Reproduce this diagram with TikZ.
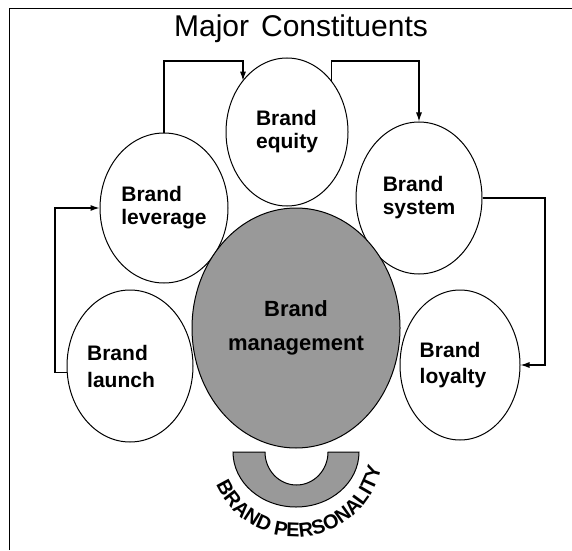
\documentclass[tikz,border=0pt]{standalone}
\usepackage{fontspec}
\setmainfont{Liberation Sans}
\usetikzlibrary{shapes.geometric,arrows.meta,decorations.text}
\begin{document}
\begin{tikzpicture}[x=1pt,y=1pt,
  part/.style={draw, line width=1pt, ellipse, fill=white, inner sep=0pt, align=left, font=\bfseries\fontsize{21}{23}\selectfont},
  link/.style={-{Latex[length=9pt,width=6pt]}, line width=1.1pt}]
\useasboundingbox (0,0) rectangle (572,550);
\draw[line width=0.8pt] (9,0) -- (9,542) -- (572,542);
\node[font=\fontsize{30}{34}\selectfont] (title) at (301,521) {Major\hspace{12pt}Constituents};
% the five constituents
\node[part, minimum width=122pt, minimum height=148pt] (equ) at (287,418) {Brand\\equity};
\node[part, minimum width=128pt, minimum height=150pt] (lev) at (164,342) {Brand\\leverage};
\node[part, minimum width=126pt, minimum height=152pt] (sys) at (419,352) {Brand\\system};
\node[part, minimum width=126pt, minimum height=152pt, font=\bfseries\fontsize{21}{27}\selectfont] (lau) at (130,184) {Brand\\launch\hspace*{18pt}};
\node[part, minimum width=120pt, minimum height=150pt, font=\bfseries\fontsize{21}{26}\selectfont] (loy) at (460,185) {Brand\\loyalty\hspace*{14pt}};
\node[part, fill=black!40, align=center, minimum width=208pt, minimum height=240pt, font=\bfseries\fontsize{22}{34}\selectfont] (man) at (296,222) {Brand\\management};
% brand personality
\fill[black!40] (233,98) -- (265,98) arc[start angle=180, end angle=360, x radius=31.5, y radius=33] -- (359,98) arc[start angle=0, end angle=-180, x radius=63, y radius=55] -- cycle;
\draw[line width=1pt] (233,98) -- (265,98) arc[start angle=180, end angle=360, x radius=31.5, y radius=33] -- (359,98) arc[start angle=0, end angle=-180, x radius=63, y radius=55] -- cycle;
\path[decorate, decoration={text along path, text align=center, text={|\bfseries\fontsize{20}{22}\selectfont|BRAND PERSONALITY}}] (296,100) ++(200:87) arc[start angle=200, end angle=352, radius=87];
% connectors
\coordinate (c1) at (243,489);
\coordinate (c3) at (545,0);
\coordinate (c4) at (55,0);
\draw[link] (lev.north) |- (c1) -- (c1 |- equ.131);
\draw[link] (equ.49) -- (equ.49 |- c1) -| (sys.north);
\draw[link] (sys.east) -| (c3 |- loy.east) -- (loy.east);
\draw[link] (lau.186) -| (c4 |- lev.west) -- (lev.west);
\end{tikzpicture}
\end{document}
